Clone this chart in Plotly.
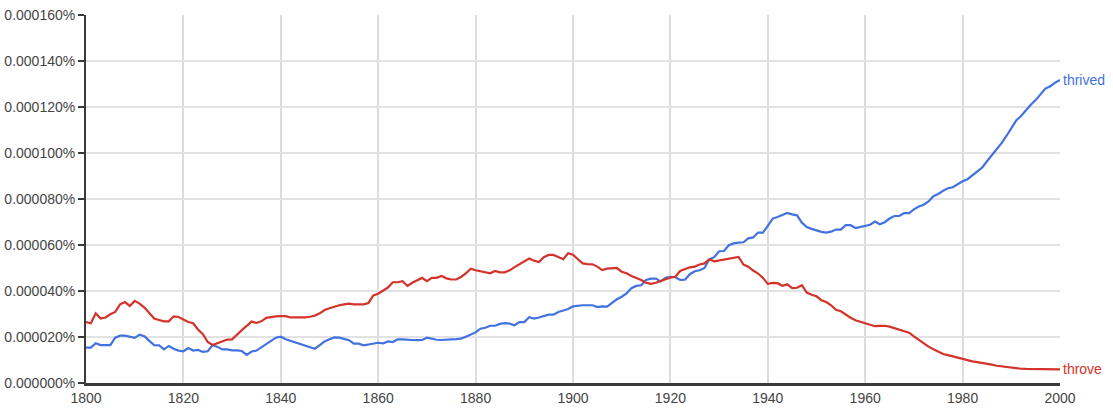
import plotly.graph_objects as go

years = list(range(1800, 2001))

# values in units of 1e-6 percent
throve_u = [
    26.5, 26, 30.3, 28, 28.5, 29.9, 30.9, 34.2, 35.2, 33.5,
    35.7, 34.5, 32.8, 30.3, 28, 27.4, 26.8, 26.8, 29, 28.7,
    27.7, 26.5, 26, 23.3, 21.2, 17.8, 16.5, 17.3, 18.1, 18.9,
    19, 21.2, 23, 24.8, 26.7, 26.1, 26.8, 28.3, 28.7, 29,
    29.1, 29.1, 28.5, 28.4, 28.3, 28.5, 28.8, 29.3, 30.3, 31.7,
    32.5, 33.3, 33.8, 34.2, 34.5, 34.2, 34.2, 34.2, 34.8, 38.1,
    38.8, 40.3, 41.5, 43.8, 43.8, 44.3, 42.2, 43.6, 44.8, 45.7,
    44.3, 45.7, 45.7, 46.5, 45.5, 45, 45, 46.1, 47.7, 49.7,
    49, 48.6, 48.1, 47.7, 48.7, 48.1, 48.1, 49, 50.4, 51.6,
    52.8, 54.1, 53.2, 52.6, 54.7, 55.7, 55.7, 54.7, 53.8, 56.4,
    55.8, 53.8, 52, 51.7, 51.6, 50.6, 49.1, 49.7, 50, 50,
    48.4, 47.7, 46.5, 45.7, 44.8, 43.6, 43.1, 43.6, 44.2, 45.1,
    45.8, 46.2, 48.7, 49.4, 50.3, 50.6, 51.5, 52, 53.8, 52.9,
    53.3, 53.8, 54.3, 54.5, 54.8, 51.5, 50.6, 48.9, 47.6, 45.7,
    43.1, 43.5, 43.4, 42.3, 42.9, 41.3, 41.4, 42.5, 39.3, 38.4,
    37.7, 36, 35.2, 33.8, 31.8, 31.2, 29.7, 28.4, 27.3, 26.7,
    26.1, 25.2, 24.7, 24.8, 24.9, 24.5, 23.9, 23.3, 22.6, 21.9,
    20.3, 18.7, 17.3, 15.8, 14.7, 13.6, 12.6, 12.1, 11.5, 11,
    10.6, 10, 9.4, 9.1, 8.8, 8.4, 8, 7.5, 7.2, 7.1,
    6.8, 6.5, 6.2, 6.1, 6.1, 5.9, 5.9, 5.8, 5.8, 5.9,
    5.9,
]

thrived_u = [
    15.4, 15.4, 17.3, 16.5, 16.5, 16.5, 19.7, 20.6, 20.6, 20.1,
    19.6, 21, 20.3, 18.3, 16.5, 16.4, 14.6, 16.1, 14.9, 14.1,
    13.8, 15.2, 14.1, 14.4, 13.5, 13.8, 16.5, 15.7, 14.6, 14.6,
    14.2, 14.2, 13.9, 12.2, 13.7, 14.1, 15.4, 16.8, 18.3, 19.7,
    20.1, 19, 18.3, 17.8, 16.9, 16.1, 15.4, 14.9, 16.5, 18.1,
    19, 19.8, 19.7, 19.1, 18.6, 17.1, 17.1, 16.4, 16.8, 17.4,
    17.5, 17.2, 18.1, 17.8, 19, 19, 19, 18.7, 18.6, 18.7,
    19.7, 19.1, 18.8, 18.7, 18.7, 19, 19.1, 19.3, 20.1, 20.9,
    22, 23.6, 24, 24.9, 24.9, 25.7, 26, 25.8, 25.1, 26.5,
    26.5, 28.6, 28, 28.5, 29.1, 29.7, 29.7, 30.9, 31.5, 32.2,
    33.3, 33.6, 33.8, 33.8, 33.8, 33, 33.3, 33.2, 34.9, 36.4,
    37.5, 39, 41.2, 42.2, 42.5, 44.8, 45.4, 45.4, 44.2, 45.7,
    46.2, 46, 44.8, 44.9, 47.3, 48.6, 49, 50, 53.8, 54.7,
    57.3, 57.4, 59.9, 60.7, 61, 61.2, 62.9, 63.3, 65.4, 65.4,
    68.3, 71.5, 72.2, 72.9, 73.9, 73.3, 72.9, 69.7, 67.8, 67,
    66.2, 65.7, 65.4, 65.8, 66.7, 66.7, 68.6, 68.6, 67.4, 67.8,
    68.1, 68.8, 70.2, 69, 69.9, 71.5, 72.6, 72.6, 73.9, 73.9,
    75.5, 76.7, 77.5, 78.9, 81.2, 82.2, 83.6, 84.7, 85.1, 86.4,
    87.7, 88.6, 90.3, 92, 93.6, 96.4, 99, 101.5, 104.3, 107.4,
    110.9, 114.1, 116.1, 118.6, 121, 123, 125.5, 128, 129, 130.6,
    131.7,
]

series_names = ["thrived", "throve"]
series_colors = ["#4272e0", "#d3332b"]

thrived = [v * 1e-6 for v in thrived_u]
throve = [v * 1e-6 for v in throve_u]

y_ticks = [i * 0.00002 for i in range(9)]
x_ticks = list(range(1800, 2001, 20))

FONT = "Liberation Sans, Arial, sans-serif"
TEXT = "#444444"

fig = go.Figure()
for name, vals, col in zip(series_names, [thrived, throve], series_colors):
    fig.add_trace(go.Scatter(
        x=years, y=vals, mode="lines", name=name,
        line=dict(color=col, width=2.2),
        hoverinfo="x+y+name",
    ))
    fig.add_annotation(
        x=years[-1], y=vals[-1], text=name, showarrow=False,
        xanchor="left", yanchor="middle", xshift=1,
        font=dict(family=FONT, size=14, color=col),
    )

fig.update_layout(
    width=1113, height=411,
    margin=dict(l=86, r=53, t=15, b=28, autoexpand=False),
    paper_bgcolor="white", plot_bgcolor="white",
    showlegend=False,
    font=dict(family=FONT, size=14, color=TEXT),
)
fig.update_xaxes(
    range=[1800, 2000], tickvals=x_ticks, ticktext=[str(t) for t in x_ticks],
    showgrid=True, gridcolor="#dcdcdc", gridwidth=1.5,
    showline=True, linecolor="#3a3a3a", linewidth=3,
    ticks="", zeroline=False, automargin=False,
    tickfont=dict(family=FONT, size=14, color=TEXT),
)
fig.update_yaxes(
    range=[0, 0.00016], tickvals=y_ticks,
    ticktext=["%.6f%%" % t for t in y_ticks],
    showgrid=True, gridcolor="#e2e2e2", gridwidth=2,
    showline=True, linecolor="#3a3a3a", linewidth=2,
    ticks="outside", ticklen=6, tickwidth=2, tickcolor="#3a3a3a",
    zeroline=False, automargin=False,
    tickfont=dict(family=FONT, size=14, color=TEXT),
)

fig.write_html(
    "out.html",
    config={"displayModeBar": False},
    post_script="document.body.style.margin='0';document.body.style.overflow='hidden';",
)
